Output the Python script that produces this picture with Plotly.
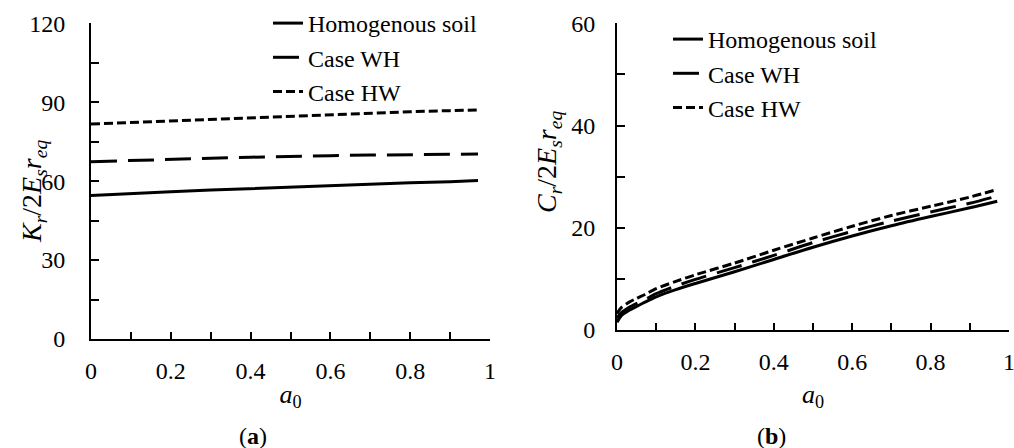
import plotly.graph_objects as go

# ---- data ----
a0_k = [0.0, 0.1, 0.2, 0.3, 0.4, 0.5, 0.6, 0.7, 0.8, 0.9, 0.97]
k_homog = [54.5, 55.3, 56.0, 56.6, 57.2, 57.8, 58.4, 58.9, 59.4, 59.8, 60.2]
k_wh = [67.4, 67.9, 68.3, 68.7, 69.1, 69.5, 69.7, 69.9, 70.1, 70.2, 70.3]
k_hw = [81.7, 82.3, 82.9, 83.6, 84.2, 84.8, 85.4, 85.9, 86.4, 86.8, 87.1]

a0_c = [0.0, 0.01, 0.03, 0.05, 0.07, 0.1, 0.15, 0.2, 0.3, 0.4, 0.5, 0.6, 0.7, 0.8, 0.9, 0.97]
c_homog = [1.5, 2.7, 3.8, 4.6, 5.4, 6.5, 7.9, 9.1, 11.4, 13.8, 16.2, 18.4, 20.4, 22.2, 23.9, 25.2]
c_wh = [2.3, 3.3, 4.4, 5.2, 5.9, 7.1, 8.6, 9.9, 12.2, 14.6, 17.1, 19.3, 21.3, 23.1, 24.8, 26.2]
c_hw = [3.2, 4.3, 5.4, 6.2, 6.9, 8.1, 9.5, 10.8, 13.1, 15.6, 18.0, 20.3, 22.4, 24.2, 26.0, 27.5]

names = ["Homogenous soil", "Case WH", "Case HW"]
dashes = ["solid", "26px,11px", "9px,4px"]

FONT = "Liberation Serif"
W, H = 1014, 448

fig = go.Figure()
for ys, nm, ds in zip([k_homog, k_wh, k_hw], names, dashes):
    fig.add_trace(go.Scatter(x=a0_k, y=ys, mode="lines", name=nm,
                             line=dict(color="black", width=3, dash=ds),
                             xaxis="x", yaxis="y", legend="legend"))
for ys, nm, ds in zip([c_homog, c_wh, c_hw], names, dashes):
    fig.add_trace(go.Scatter(x=a0_c, y=ys, mode="lines", name=nm,
                             line=dict(color="black", width=3, dash=ds,
                                       shape="spline", smoothing=0.8),
                             xaxis="x2", yaxis="y2", legend="legend2"))

def xax(domain, anchor, standoff):
    return dict(domain=domain, anchor=anchor, range=[0, 1], dtick=0.2, tick0=0,
                showline=True, linecolor="black", linewidth=2, mirror=False,
                ticks="inside", ticklen=7, tickwidth=2, tickcolor="black",
                minor=dict(dtick=0.1, ticks="inside", ticklen=7, tickwidth=2,
                           tickcolor="black", showgrid=False),
                showgrid=False, zeroline=False, automargin=False,
                ticklabelstandoff=9, ticklabeloverflow="allow",
                tickfont=dict(family=FONT, size=24, color="black"),
                title=dict(text="<i>a</i><sub>0</sub>", standoff=standoff,
                           font=dict(family=FONT, size=26, color="black")))

def yax(domain, anchor, rng, dt, standoff):
    return dict(domain=domain, anchor=anchor, range=rng, dtick=dt, tick0=0,
                showline=True, linecolor="black", linewidth=2,
                ticks="inside", ticklen=8, tickwidth=2, tickcolor="black",
                minor=dict(dtick=dt / 2, ticks="inside", ticklen=8, tickwidth=2,
                           tickcolor="black", showgrid=False),
                showgrid=False, zeroline=False, automargin=False,
                ticklabelstandoff=standoff, ticklabeloverflow="allow",
                tickfont=dict(family=FONT, size=24, color="black"))

fig.update_layout(
    width=W, height=H,
    margin=dict(l=0, r=0, t=0, b=0),
    plot_bgcolor="white", paper_bgcolor="white",
    font=dict(family=FONT, size=24, color="black"),
    xaxis=xax([91 / W, 490 / W], "y", 2),
    yaxis=yax([(H - 339) / H, (H - 23.3) / H], "x", [0, 120], 30, 19),
    xaxis2=xax([617 / W, 1009 / W], "y2", 11),
    yaxis2=yax([(H - 330) / H, (H - 23.3) / H], "x2", [0, 60], 20, 15),
    legend=dict(x=268 / W, y=1 - 1 / H, xanchor="left", yanchor="top",
                bgcolor="rgba(0,0,0,0)", tracegroupgap=0,
                font=dict(family=FONT, size=24, color="black")),
    legend2=dict(x=668 / W, y=1 - 17 / H, xanchor="left", yanchor="top",
                 bgcolor="rgba(0,0,0,0)", tracegroupgap=0,
                 font=dict(family=FONT, size=24, color="black")),
    showlegend=True,
)

# y-axis titles
fig.add_annotation(text="<i>K<sub>r</sub></i>/2<i>E<sub>s</sub>r<sub>eq</sub></i>",
                   x=33 / W, y=1 - 192 / H, xref="paper", yref="paper",
                   xanchor="center", yanchor="middle",
                   textangle=-90, showarrow=False,
                   font=dict(family=FONT, size=28, color="black"))
fig.add_annotation(text="<i>C<sub>r</sub></i>/2<i>E<sub>s</sub>r<sub>eq</sub></i>",
                   x=549 / W, y=1 - 162 / H, xref="paper", yref="paper",
                   xanchor="center", yanchor="middle",
                   textangle=-90, showarrow=False,
                   font=dict(family=FONT, size=28, color="black"))

# panel labels
fig.add_annotation(text="(<b>a</b>)", x=253 / W, y=1 - 436 / H, xref="paper", yref="paper",
                   xanchor="center", yanchor="middle",
                   showarrow=False, font=dict(family=FONT, size=24, color="black"))
fig.add_annotation(text="(<b>b</b>)", x=771 / W, y=1 - 436 / H, xref="paper", yref="paper",
                   xanchor="center", yanchor="middle",
                   showarrow=False, font=dict(family=FONT, size=24, color="black"))

fig.write_html("out.html", config={"displayModeBar": False},
               post_script="document.body.style.margin='0px';")
